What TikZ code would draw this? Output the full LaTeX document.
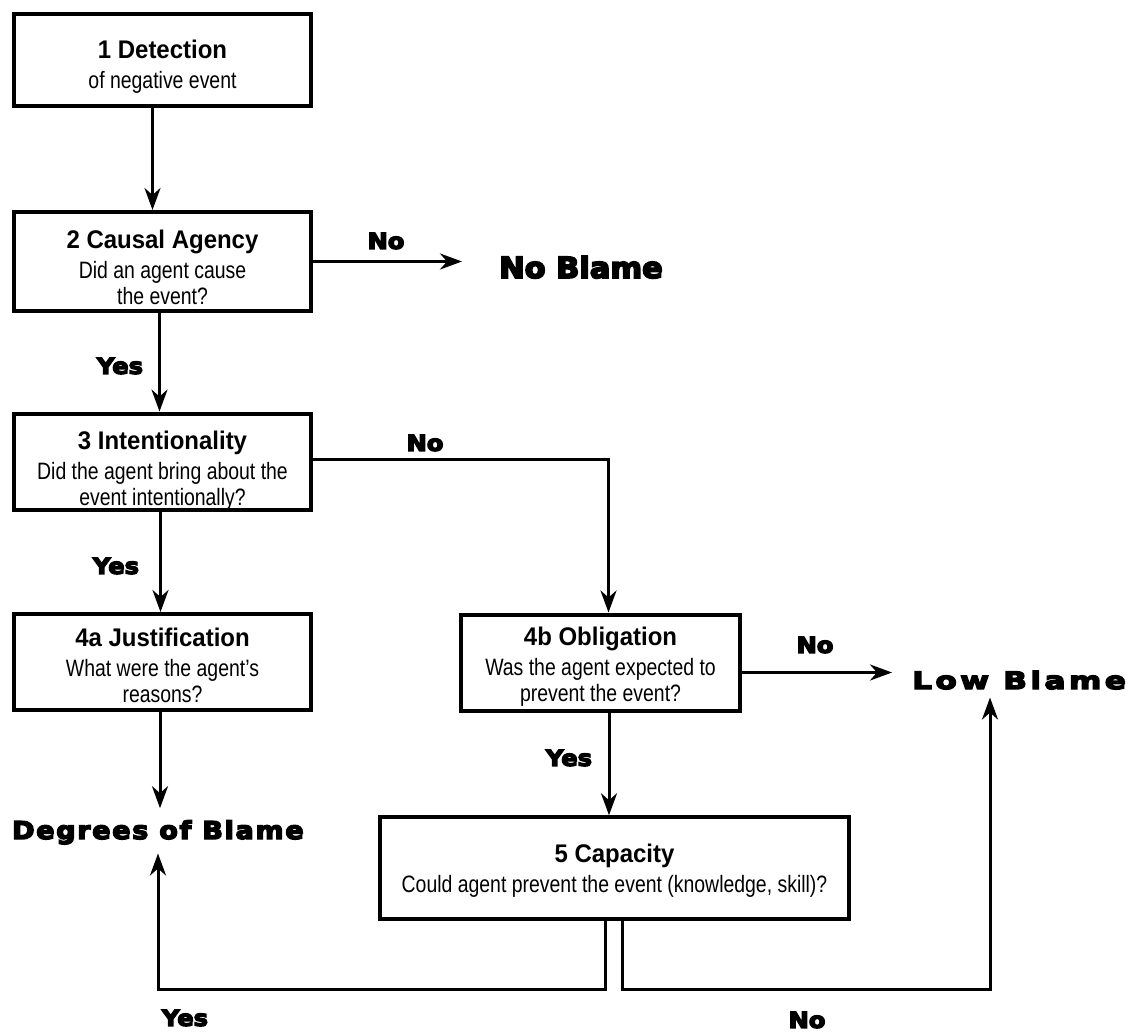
\documentclass[tikz,border=0pt]{standalone}
\usepackage{fontspec}
\setmainfont{Liberation Sans}[FakeStretch=0.82]
\newfontfamily\headfont{Liberation Sans}[FakeStretch=0.94]
\newfontfamily\heavyfont{DejaVu Sans}[BoldFeatures={FakeBold=6}]
\usetikzlibrary{arrows.meta, positioning, calc}
\newcommand{\boxhead}[2][30pt]{\rule{0pt}{#1}{\headfont\bfseries\fontsize{25.5}{30}\selectfont #2}}

\begin{document}
\begin{tikzpicture}[x=1pt,y=-1pt,
				box/.style={draw,line width=4pt,align=center,minimum width=297pt,minimum height=96pt,inner sep=0pt,font=\fontsize{23.7}{26}\selectfont},
				outcome/.style={inner sep=0pt,font=\heavyfont\bfseries\fontsize{24.5}{30}\selectfont},
				lbl/.style={inner sep=0pt,font=\heavyfont\bfseries\fontsize{22}{26}\selectfont\addfontfeature{FakeStretch=1.1}},
				arr/.style={-{Stealth[length=22pt,width=16pt,inset=7pt]},line width=3pt}
			]
			\useasboundingbox (0,0) rectangle (1131,1032);
			\node[box,minimum height=92pt] (b1) at (162.5,60) {\boxhead[31pt]{1 Detection}\\[4pt]of negative event};
			\node[box,minimum height=99pt] (b2) at (162.5,261.5) {\boxhead[31pt]{2 Causal Agency}\\[4pt]Did an agent cause\\the event?};
			\node[box] (b3) at (162.5,462) {\boxhead[36pt]{3 Intentionality}\\[4pt]Did the agent bring about the\\event intentionally?};
			\node[box] (b4a) at (162.5,662) {\boxhead[25pt]{4a Justification}\\[4pt]What were the agent’s\\reasons?};
			\node[box,minimum width=279pt,minimum height=96pt] (b4b) at (600.5,662.5) {\boxhead[26pt]{4b Obligation}\\[4pt]Was the agent expected to\\prevent the event?};
			\node[box,line width=3.5pt,minimum width=469pt,minimum height=102pt] (b5) at (614.5,868) {\boxhead[23pt]{5 Capacity}\\[4pt]Could agent prevent the event (knowledge, skill)?};
			\node[outcome,anchor=base west,font=\heavyfont\bfseries\fontsize{29}{34}\selectfont\addfontfeature{FakeStretch=1.05}] (noblame) at (499,278) {No Blame};
			\node[outcome,anchor=base west] (lowblame) at (912,689) {\fontsize{24}{30}\selectfont\addfontfeature{FakeStretch=1.3,LetterSpace=14}Low Blame};
			\node[outcome,anchor=base west] (degrees) at (12,839) {\addfontfeature{FakeStretch=1.1,LetterSpace=7}Degrees of Blame};
			\node[lbl] (no1) at (386,241) {No};
			\node[lbl] (yes1) at (120,366) {Yes};
			\node[lbl] (no2) at (425,443) {No};
			\node[lbl] (yes2) at (116,566) {Yes};
			\node[lbl] (no3) at (815,645) {No};
			\node[lbl] (yes3) at (569,758) {Yes};
			\node[lbl] (yes4) at (185,1018) {Yes};
			\node[lbl] (no4) at (807,1020) {No};
			\coordinate (loop) at (0,989);
			\draw[arr] ([xshift=-10pt]b1.south) -- ([xshift=-10pt]b2.north);
			\draw[arr,shorten >=37pt] (b2.east) -- (b2.east -| noblame.west);
			\draw[arr] ([xshift=-3pt]b2.south) -- ([xshift=-3pt]b3.north);
			\draw[arr] ([yshift=3pt]b3.east) -| ([xshift=8pt]b4b.north);
			\draw[arr] ([xshift=-2pt]b3.south) -- ([xshift=-2pt]b4a.north);
			\draw[arr,shorten >=12pt] ([xshift=-2.5pt]b4a.south) -- ([xshift=-2.5pt]b4a.south |- degrees.north);
			\draw[arr,shorten >=20pt] ([yshift=-10pt]b4b.east) coordinate (o4) -- (o4 -| lowblame.west);
			\draw[arr] ([xshift=8.5pt]b4b.south) -- ([xshift=8.5pt]b4b.south |- b5.north);
			\draw[arr,shorten >=9pt] ([xshift=-9.5pt]b5.south) -- ([xshift=-9.5pt]b5.south |- loop) -| ([xshift=-4.5pt]b4a.south |- degrees.south);
			\draw[arr,shorten >=8pt] ([xshift=7.5pt]b5.south) -- ([xshift=7.5pt]b5.south |- loop) -| ([xshift=78pt]lowblame.south west);
			\end{tikzpicture}
\end{document}
